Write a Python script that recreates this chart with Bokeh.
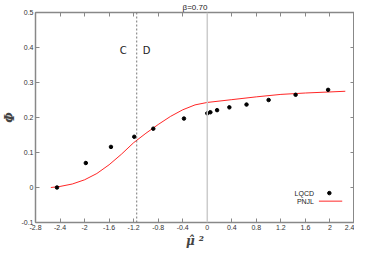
from bokeh.plotting import figure
from bokeh.models import (LinearAxis, FixedTicker, CustomJSTickFormatter, Span,
                          Whisker, ColumnDataSource, Range1d)
from bokeh.core.properties import value
from bokeh.embed import file_html
from bokeh.resources import INLINE

# ---- data ----
lqcd_x = [-2.45, -1.98, -1.57, -1.19, -0.88, -0.38, 0.0, 0.05, 0.16, 0.36, 0.64, 1.0, 1.44, 1.97]
lqcd_y = [0.0, 0.070, 0.116, 0.145, 0.168, 0.197, 0.212, 0.215, 0.221, 0.229, 0.237, 0.250, 0.265, 0.279]
lqcd_err = [0.002, 0.005, 0.002, 0.002, 0.002, 0.002, 0.002, 0.002, 0.002, 0.002, 0.002, 0.002, 0.002, 0.002]

pnjl_x = [-2.55, -2.4, -2.2, -2.0, -1.8, -1.6, -1.4, -1.2, -1.0, -0.8, -0.6, -0.4, -0.2, 0.0, 0.4, 0.8, 1.2, 1.6, 2.0, 2.25]
pnjl_y = [0.0, 0.003, 0.010, 0.022, 0.040, 0.065, 0.095, 0.128, 0.155, 0.180, 0.203, 0.222, 0.236, 0.243, 0.251, 0.259, 0.266, 0.270, 0.273, 0.275]

x_ticks = [-2.8, -2.4, -2.0, -1.6, -1.2, -0.8, -0.4, 0.0, 0.4, 0.8, 1.2, 1.6, 2.0, 2.4]
y_ticks = [-0.1, 0.0, 0.1, 0.2, 0.3, 0.4, 0.5]
transition_x = -1.15
title_text = "β=0.70"
x_label = "μ̂ ²"
y_label = "Φ"

AX = "#888888"
FONT = "Liberation Sans"

p = figure(width=354, height=250, output_backend="svg", toolbar_location=None,
           x_range=Range1d(-2.8, 2.4), y_range=Range1d(-0.1, 0.5),
           min_border_left=0, min_border_right=0, min_border_top=0, min_border_bottom=0,
           outline_line_color=AX)
p.grid.visible = False
p.background_fill_color = "white"
p.border_fill_color = "white"

p.title.text = title_text
p.title.align = "center"
p.title.text_font = FONT
p.title.text_font_size = "8px"
p.title.text_font_style = "normal"
p.title.text_color = "#222222"
p.title.standoff = 1

fmt = CustomJSTickFormatter(code="return String(Number(tick.toFixed(1)));")
blank = CustomJSTickFormatter(code="return '';")

def style(ax, ticks, show_labels=True):
    ax.ticker = FixedTicker(ticks=ticks)
    ax.formatter = fmt if show_labels else blank
    ax.axis_line_color = AX
    ax.axis_line_width = 1.5
    ax.major_tick_line_color = AX
    ax.major_tick_in = 4
    ax.major_tick_out = 0
    ax.minor_tick_line_color = None
    ax.major_label_text_font = FONT
    ax.major_label_text_font_size = "7px"
    ax.major_label_text_color = "#333333"
    ax.major_label_standoff = 2 if show_labels else 0

style(p.xaxis[0], x_ticks)
style(p.yaxis[0], y_ticks)
p.yaxis[0].axis_label = y_label
p.yaxis[0].axis_label_text_font = "DejaVu Serif"
p.yaxis[0].axis_label_text_font_style = "bold italic"
p.yaxis[0].axis_label_text_font_size = "12px"
p.yaxis[0].axis_label_standoff = 1
p.xaxis[0].axis_label = x_label
p.xaxis[0].axis_label_text_font = "DejaVu Serif"
p.xaxis[0].axis_label_text_font_style = "bold italic"
p.xaxis[0].axis_label_text_font_size = "12px"
p.xaxis[0].axis_label_standoff = 1

top = LinearAxis()
style(top, x_ticks, False)
p.add_layout(top, "above")
right = LinearAxis()
style(right, y_ticks, False)
p.add_layout(right, "right")

# reference lines
p.add_layout(Span(location=0.0, dimension="height", line_color="#cccccc", line_width=1.5))
p.add_layout(Span(location=transition_x, dimension="height", line_color="#777777",
                  line_width=1, line_dash="2 2"))

# PNJL curve
p.line(pnjl_x, pnjl_y, line_color="red", line_width=1, line_alpha=0.85)

# LQCD points with errors
src = ColumnDataSource(dict(x=lqcd_x, y=lqcd_y,
                            lo=[a - b for a, b in zip(lqcd_y, lqcd_err)],
                            hi=[a + b for a, b in zip(lqcd_y, lqcd_err)]))
p.add_layout(Whisker(source=src, base="x", lower="lo", upper="hi", line_color="black",
                     line_width=1, upper_head=None, lower_head=None))
p.scatter("x", "y", source=src, size=3.5, color="black")

# region labels
p.text(x=[-1.37, -0.99], y=[0.392, 0.392], text=["C", "D"], text_align="center",
       text_baseline="middle", text_font=value("DejaVu Sans"), text_font_size="10px",
       text_color="#222222")

# legend (manual)
p.text(x=[1.74, 1.74], y=[-0.016, -0.039], text=["LQCD", "PNJL"], text_align="right",
       text_baseline="middle", text_font=value(FONT), text_font_size="7px", text_color="#222222")
p.scatter([1.99], [-0.016], size=3.5, color="black")
p.line([1.82, 2.20], [-0.039, -0.039], line_color="red", line_width=1, line_alpha=0.85)

open("out.html", "w").write(file_html(p, INLINE))
